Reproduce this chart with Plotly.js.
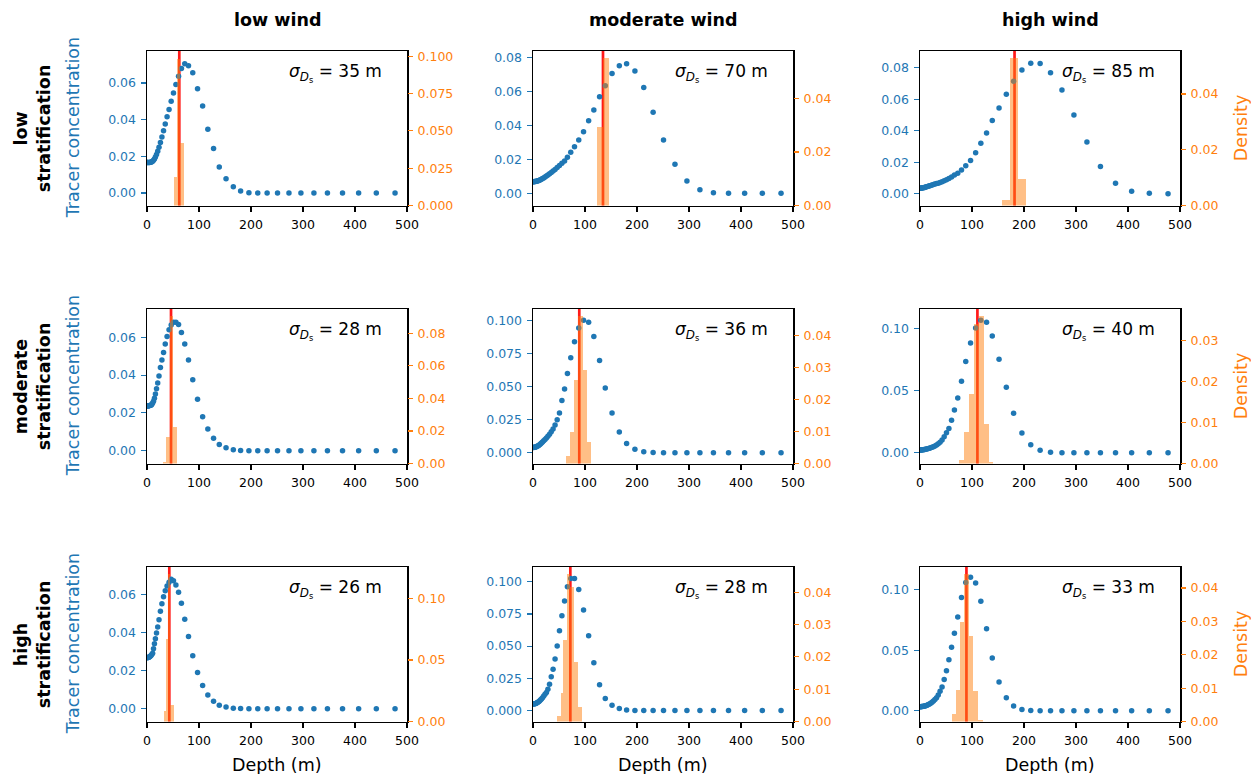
<!DOCTYPE html>
<html><head><meta charset="utf-8">
<script src="https://cdn.plot.ly/plotly-3.0.1.min.js"></script>
<style>body{margin:0;padding:0;background:#fff}#chart{width:1251px;height:774px}</style>
</head><body><div id="chart"></div>
<script>
// ---------- data ----------
const windLabels = ['low wind', 'moderate wind', 'high wind'];
const stratLabels = ['low', 'moderate', 'high'];

const depth = [0.5, 1.5, 2.6, 3.8, 5.0, 6.3, 7.7, 9.2, 10.8, 12.5, 14.3, 16.2, 18.3, 20.6, 23.1,
  25.8, 28.7, 31.8, 35.1, 38.6, 42.4, 46.5, 50.9, 55.6, 60.7, 66.2, 72.6, 79.8, 88.0, 97.2,
  107, 117, 128, 139, 152, 166, 180, 196, 213, 231, 251, 273, 296, 321, 347, 376, 407, 441, 477];

// tracer concentration, rows = stratification, cols = wind
const concLowStratLowWind = [0.0167,0.0167,0.0167,0.0167,0.0167, 0.0168,0.0168,0.0170,0.0173,0.0178,
  0.0185,0.0196,0.0210,0.0228,0.0250, 0.0275,0.0305,0.0340,0.0376,0.0415, 0.0455,0.0500,0.0545,0.0592,0.0636,
  0.0678,0.0705,0.0694,0.0656,0.0568, 0.0474,0.0347,0.0242,0.0142,0.0078, 0.0034,0.0011,0.0002,0,0,
  0,0,0,0,0, 0,0,0,0];
const concLowStratModWind = [0.0068,0.0068,0.0069,0.0069,0.0070, 0.0071,0.0072,0.0073,0.0075,0.0077,
  0.0080,0.0083,0.0087,0.0091,0.0096, 0.0102,0.0108,0.0115,0.0123,0.0131, 0.0141,0.0152,0.0164,0.0177,0.0190,
  0.0213,0.0242,0.0275,0.0315,0.0363, 0.0428,0.0492,0.0570,0.0635,0.0707, 0.0753,0.0765,0.0722,0.0625,0.0478,
  0.0315,0.0172,0.0073,0.0021,0.0004, 0.0001,0,0,0];
const concLowStratHighWind = [0.0035,0.0035,0.0036,0.0036,0.0037, 0.0038,0.0039,0.0040,0.0042,0.0044,
  0.0046,0.0048,0.0050,0.0052,0.0055, 0.0058,0.0061,0.0064,0.0067,0.0071, 0.0076,0.0082,0.0089,0.0096,0.0106,
  0.0118,0.0130,0.0150,0.0178,0.0210, 0.0260,0.0320,0.0385,0.0464,0.0544, 0.0631,0.0714,0.0785,0.0828,0.0826,
  0.0768,0.0658,0.0500,0.0328,0.0172, 0.0066,0.0015,0.0002,0];
const concModStratLowWind = [0.0236,0.0236,0.0237,0.0238,0.0239, 0.0240,0.0241,0.0245,0.0252,0.0262,
  0.0277,0.0300,0.0328,0.0358,0.0395, 0.0440,0.0480,0.0520,0.0565,0.0605, 0.0640,0.0665,0.0680,0.0680,0.0668,
  0.0625,0.0565,0.0480,0.0375,0.0272, 0.0180,0.0115,0.0066,0.0032,0.0016, 0.0005,0.0001,0,0,0,
  0,0,0,0,0, 0,0,0,0];
const concModStratModWind = [0.0040,0.0040,0.0041,0.0042,0.0043, 0.0045,0.0048,0.0051,0.0055,0.0060,
  0.0066,0.0073,0.0081,0.0090,0.0100, 0.0112,0.0125,0.0140,0.0158,0.0180, 0.0210,0.0250,0.0300,0.0395,0.0483,
  0.0600,0.0720,0.0840,0.0945,0.1004, 0.0988,0.0880,0.0698,0.0490,0.0300, 0.0157,0.0070,0.0026,0.0008,0.0002,
  0,0,0,0,0, 0,0,0,0];
const concModStratHighWind = [0.0022,0.0022,0.0022,0.0023,0.0023, 0.0024,0.0025,0.0026,0.0027,0.0029,
  0.0031,0.0033,0.0036,0.0039,0.0043, 0.0048,0.0054,0.0062,0.0072,0.0085, 0.0103,0.0128,0.0160,0.0195,0.0262,
  0.0345,0.0440,0.0575,0.0734,0.0884, 0.1005,0.1067,0.1051,0.0941,0.0753, 0.0527,0.0318,0.0159,0.0064,0.0019,
  0.0003,0,0,0,0, 0,0,0,0];
const concHighStratLowWind = [0.0268,0.0269,0.0270,0.0271,0.0273, 0.0276,0.0280,0.0285,0.0292,0.0315,
  0.0342,0.0368,0.0398,0.0430,0.0468, 0.0513,0.0552,0.0588,0.0620,0.0645, 0.0665,0.0680,0.0673,0.0650,0.0612,
  0.0555,0.0470,0.0380,0.0278,0.0190, 0.0122,0.0072,0.0039,0.0019,0.0009, 0.0003,0.0001,0,0,0,
  0,0,0,0,0, 0,0,0,0];
const concHighStratModWind = [0.0050,0.0051,0.0052,0.0053,0.0055, 0.0057,0.0060,0.0064,0.0069,0.0075,
  0.0082,0.0090,0.0100,0.0112,0.0126, 0.0140,0.0165,0.0205,0.0262,0.0320, 0.0400,0.0500,0.0620,0.0735,0.0850,
  0.0961,0.1025,0.1025,0.0940,0.0780, 0.0580,0.0370,0.0200,0.0093,0.0042, 0.0016,0.0005,0.0001,0,0,
  0,0,0,0,0, 0,0,0,0];
const concHighStratHighWind = [0.0033,0.0033,0.0034,0.0034,0.0035, 0.0036,0.0037,0.0039,0.0041,0.0044,
  0.0047,0.0051,0.0056,0.0062,0.0070, 0.0080,0.0092,0.0108,0.0130,0.0160, 0.0195,0.0258,0.0330,0.0420,0.0525,
  0.0640,0.0775,0.0935,0.1060,0.1102, 0.1055,0.0904,0.0677,0.0435,0.0237, 0.0107,0.0039,0.0011,0.0002,0,
  0,0,0,0,0, 0,0,0,0];

// histogram (density) of depth: bin edges and densities
const histEdgesLowLow   = [52.0, 58.2, 64.4, 70.6];
const histDensLowLow    = [0.0188, 0.0984, 0.0419];
const histEdgesLowMod   = [123.0, 134.8, 146.6];
const histDensLowMod    = [0.0295, 0.0550];
const histEdgesLowHigh  = [158.0, 173.2, 188.4, 203.6];
const histDensLowHigh   = [0.0019, 0.0528, 0.0096];
const histEdgesModLow   = [31.5, 36.5, 43.6, 50.6, 57.6];
const histDensModLow    = [0.0008, 0.0165, 0.0904, 0.0225];
const histEdgesModMod   = [62.8, 70.9, 79.0, 87.1, 95.2, 103.3, 111.4];
const histDensModMod    = [0.0025, 0.0098, 0.0262, 0.0460, 0.0293, 0.0068];
const histEdgesModHigh  = [74.8, 84.3, 93.8, 103.3, 112.8, 122.3, 131.8, 141.3];
const histDensModHigh   = [0.0008, 0.0078, 0.0169, 0.0340, 0.0359, 0.0096, 0.0004];
const histEdgesHighLow  = [32.7, 36.5, 41.0, 45.0, 51.3];
const histDensHighLow   = [0.0086, 0.0667, 0.1196, 0.0135];
const histEdgesHighMod  = [45.5, 53.2, 57.7, 64.7, 71.8, 78.8, 86.5, 94.2];
const histDensHighMod   = [0.0018, 0.0088, 0.0252, 0.0455, 0.0417, 0.0184, 0.0046];
const histEdgesHighHigh = [61.5, 68.7, 77.1, 85.4, 93.6, 102.1, 112.0, 121.0];
const histDensHighHigh  = [0.0023, 0.0095, 0.0298, 0.0441, 0.0256, 0.0092, 0.0004];

// mean depth (red line) and spread sigma_Ds (m)
const meanDepth = [62.1, 134.6, 181.8, 46.2, 89.0, 110.4, 42.9, 71.8, 89.3];
const sigmaDs   = [35, 70, 85, 28, 36, 40, 26, 28, 33];

const concs = [concLowStratLowWind, concLowStratModWind, concLowStratHighWind,
  concModStratLowWind, concModStratModWind, concModStratHighWind,
  concHighStratLowWind, concHighStratModWind, concHighStratHighWind];
const hEdges = [histEdgesLowLow, histEdgesLowMod, histEdgesLowHigh, histEdgesModLow, histEdgesModMod,
  histEdgesModHigh, histEdgesHighLow, histEdgesHighMod, histEdgesHighHigh];
const hDens = [histDensLowLow, histDensLowMod, histDensLowHigh, histDensModLow, histDensModMod,
  histDensModHigh, histDensHighLow, histDensHighMod, histDensHighHigh];

// ---------- layout settings ----------
const leftRange = [[-0.0068,0.0774],[-0.0072,0.0840],[-0.0075,0.0906],[-0.0068,0.0750],[-0.0082,0.1089],
  [-0.0087,0.1158],[-0.0067,0.0745],[-0.0085,0.1114],[-0.0089,0.1187]];
const rightTop = [0.1035, 0.0578, 0.0554, 0.0949, 0.0483, 0.0377, 0.1256, 0.0478, 0.0463];
const leftDtick = [0.02,0.02,0.02,0.02,0.025,0.05,0.02,0.025,0.05];
const rightDtick = [0.025,0.02,0.02,0.02,0.01,0.01,0.05,0.01,0.01];

const W = 1251, H = 774;
const colPx = [[147,407],[533,793],[920,1180]];
const rowPx = [[51,205.5],[309,463.5],[567,721.5]];
const FONT = 'DejaVu Sans';
const BLUE = '#1f77b4', ORANGE = '#ff7f0e';

const traces = [], layout = {
  width: W, height: H, margin: {l:0, r:0, t:0, b:0}, showlegend: false,
  paper_bgcolor: '#fff', plot_bgcolor: '#fff', bargap: 0,
  font: {family: FONT, size: 12, color: '#000'},
  shapes: [], annotations: []
};
const fmt = d => (d === 0.025 ? '.3f' : '.2f');

for (let r = 0; r < 3; r++) {
  for (let c = 0; c < 3; c++) {
    const k = r*3 + c;
    const xn = k + 1, yl = 2*k + 1, yr = 2*k + 2;
    const xId = xn === 1 ? 'x' : 'x' + xn;
    const ylId = yl === 1 ? 'y' : 'y' + yl;
    const yrId = 'y' + yr;
    const xdom = [colPx[c][0]/W, colPx[c][1]/W];
    const ydom = [1 - rowPx[r][1]/H, 1 - rowPx[r][0]/H];

    traces.push({type:'scatter', mode:'markers', x: depth, y: concs[k], xaxis: xId, yaxis: ylId,
      marker: {color: BLUE, size: 5.5}, hoverinfo: 'skip'});
    const e = hEdges[k];
    const centers = [], widths = [];
    for (let i = 0; i < e.length - 1; i++) { centers.push((e[i] + e[i+1]) / 2); widths.push(e[i+1] - e[i]); }
    traces.push({type:'bar', x: centers, y: hDens[k], width: widths, xaxis: xId, yaxis: yrId,
      marker: {color: 'rgba(255,127,14,0.5)', line: {width: 0}}, hoverinfo: 'skip'});

    layout['xaxis' + (xn === 1 ? '' : xn)] = {
      domain: xdom, anchor: ylId, range: [0, 500], tick0: 0, dtick: 100,
      ticks: 'outside', ticklen: 5, tickwidth: 1.2, tickcolor: '#000', ticklabelstandoff: 2,
      showline: true, linecolor: '#000', linewidth: 1.5, mirror: true,
      showgrid: false, zeroline: false, tickfont: {size: 12.5, color: '#000', family: FONT},
      title: {text: ''}
    };
    layout['yaxis' + (yl === 1 ? '' : yl)] = {
      domain: ydom, anchor: xId, range: leftRange[k], tick0: 0, dtick: leftDtick[k], tickformat: fmt(leftDtick[k]),
      ticks: 'outside', ticklen: 5, tickwidth: 1.2, tickcolor: BLUE, ticklabelstandoff: 2,
      showline: true, linecolor: '#000', linewidth: 1.5, mirror: true,
      showgrid: false, zeroline: false, tickfont: {size: 12.5, color: BLUE, family: FONT}
    };
    layout['yaxis' + yr] = {
      overlaying: ylId, side: 'right', anchor: xId, range: [0, rightTop[k]],
      tick0: 0, dtick: rightDtick[k], tickformat: fmt(rightDtick[k]),
      ticks: 'outside', ticklen: 5, tickwidth: 1.2, tickcolor: ORANGE, ticklabelstandoff: 2,
      showline: false, showgrid: false, zeroline: false,
      tickfont: {size: 12.5, color: ORANGE, family: FONT}
    };

    layout.shapes.push({type: 'line', xref: xId, yref: ylId + ' domain', x0: meanDepth[k], x1: meanDepth[k],
      y0: 0, y1: 1, line: {color: '#ff1a1a', width: 2.7}, layer: 'below'});

    layout.annotations.push({xref: xId + ' domain', yref: ylId + ' domain', x: 0.9, y: 0.855, xshift: 3,
      xanchor: 'right', yanchor: 'middle', showarrow: false,
      text: '<i>σ</i><sub><i>D</i><sub>s</sub></sub> = ' + sigmaDs[k] + ' m',
      font: {size: 17, family: FONT, color: '#000'}});

    if (r === 2) {
      layout.annotations.push({xref:'paper', yref:'paper', x: (colPx[c][0]+colPx[c][1])/2/W, y: 1 - 765/H,
        xanchor:'center', yanchor:'middle', showarrow:false, text: 'Depth (m)',
        font: {size: 17.5, family: FONT, color: '#000'}});
    }
  }
}

// column titles
for (let c = 0; c < 3; c++) {
  layout.annotations.push({xref:'paper', yref:'paper', x: (colPx[c][0]+colPx[c][1])/2/W, y: 1 - 20/H,
    xanchor:'center', yanchor:'middle', showarrow:false, text: '<b>' + windLabels[c] + '</b>',
    font: {size: 17.5, family: FONT, color: '#000'}});
}
// row labels and side axis titles
for (let r = 0; r < 3; r++) {
  const yc = 1 - (rowPx[r][0]+rowPx[r][1])/2/H;
  layout.annotations.push({xref:'paper', yref:'paper', x: 32/W, y: yc, xanchor:'center', yanchor:'middle',
    showarrow:false, textangle: -90, align: 'center',
    text: '<b>' + stratLabels[r] + '<br>stratification</b>', font: {size: 17.5, family: FONT, color: '#000'}});
  layout.annotations.push({xref:'paper', yref:'paper', x: 73/W, y: yc, xanchor:'center', yanchor:'middle',
    showarrow:false, textangle: -90, text: 'Tracer concentration', font: {size: 17.5, family: FONT, color: BLUE}});
  layout.annotations.push({xref:'paper', yref:'paper', x: 1241/W, y: yc, xanchor:'center', yanchor:'middle',
    showarrow:false, textangle: -90, text: 'Density', font: {size: 17.5, family: FONT, color: ORANGE}});
}

Plotly.newPlot('chart', traces, layout, {staticPlot: true, displayModeBar: false});
</script></body></html>
